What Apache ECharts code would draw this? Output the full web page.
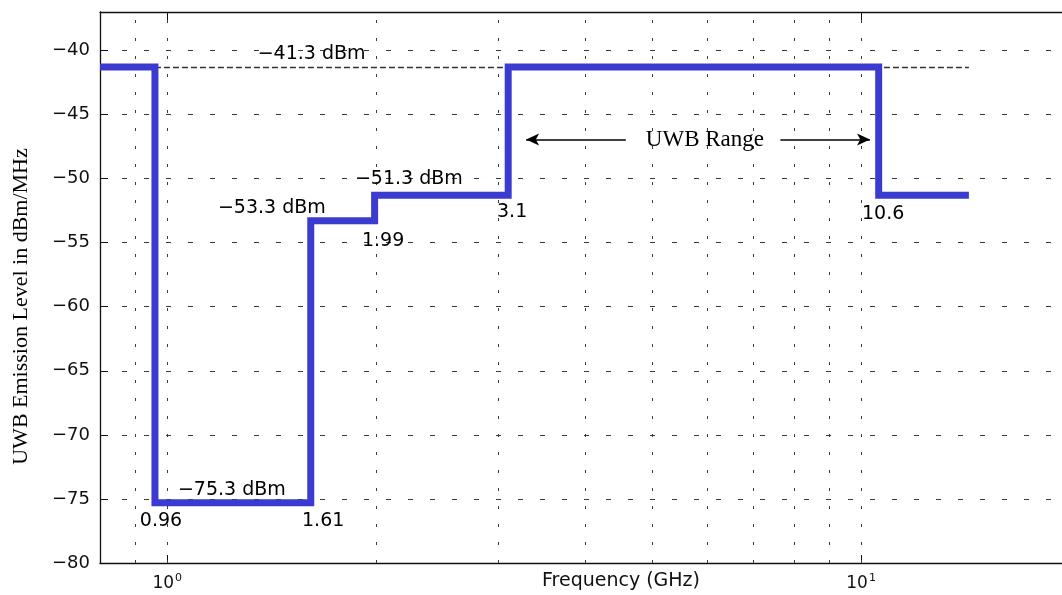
<!DOCTYPE html>
<html>
<head>
<meta charset="utf-8">
<script src="https://cdn.jsdelivr.net/npm/echarts@6/dist/echarts.min.js"></script>
<style>
html,body{margin:0;padding:0;background:#fff;}
#chart{width:1062px;height:595px;}
</style>
</head>
<body>
<div id="chart"></div>
<script>
// ---- data ----
const xMin = 0.8, xMax = 20;
const yMin = -80, yMax = -37, yStep = 5;
const freqEdges = [0.8, 0.96, 1.61, 1.99, 3.1, 10.6, 14.3];   // GHz
const levels = [-41.3, -75.3, -53.3, -51.3, -41.3, -51.3];      // dBm/MHz
const limitLevel = -41.3;
const limitFrom = 0.96, limitTo = 14.3;
const majorGridFreqs = [1, 10];
const minorGridFreqs = [0.9, 2, 3, 4, 5, 6, 7, 8, 9];
const annotationTexts = ['\u221241.3 dBm', '\u221253.3 dBm', '\u221251.3 dBm', '1.99', '3.1', '10.6', '\u221275.3 dBm', '0.96', '1.61'];
const annotationAt = [[1.35, -40.25], [1.183, -52.3], [1.864, -50.0], [1.908, -54.85], [2.987, -52.6], [10.03, -52.75], [1.036, -74.3], [0.913, -76.7], [1.564, -76.7]];
const rangeLabel = 'UWB Range';
const rangeLabelAt = [5.955, -46.95];
const rangeArrowLeft = [4.58, 3.29];
const rangeArrowRight = [7.65, 10.3];

// ---- build ----
const stepData = freqEdges.map((f, i) => [f, levels[Math.min(i, levels.length - 1)]]);
const gridDash = '#3a3a3a';
const vLines = majorGridFreqs.concat(minorGridFreqs).map(v => ({ xAxis: v }));

const annData = annotationTexts.map((t, i) => ({
  value: annotationAt[i],
  label: { formatter: t }
}));

const chart = echarts.init(document.getElementById('chart'), null, { renderer: 'canvas' });
chart.setOption({
  animation: false,
  backgroundColor: '#fff',
  grid: { left: 100, right: -8, top: 12, bottom: 32, show: false, containLabel: false, outerBoundsMode: 'none' },
  xAxis: [{
    type: 'log', min: xMin, max: xMax, logBase: 10,
    axisLine: { show: true, lineStyle: { color: '#111', width: 1.3 } },
    axisTick: { show: true, inside: true, length: 8, lineStyle: { color: '#111' } },
    splitLine: { show: false },
    axisLabel: {
      margin: 10, color: '#111',
      formatter: function (v) {
        const l = Math.log10(v);
        if (Math.abs(l - Math.round(l)) < 1e-6) return '{b|10}{s|' + Math.round(l) + '}';
        return '';
      },
      rich: {
        b: { fontFamily: 'DejaVu Sans', fontSize: 17, color: '#111' },
        s: { fontFamily: 'DejaVu Sans', fontSize: 11, color: '#111', verticalAlign: 'top', padding: [0, 0, 10, 1] }
      }
    },
    name: 'Frequency (GHz)', nameLocation: 'middle', nameGap: 9, nameMoveOverlap: false,
    nameTextStyle: { fontFamily: 'DejaVu Sans', fontSize: 19, color: '#111', padding: [0, 0, 0, 72] }
  }, {
    type: 'log', min: xMin, max: xMax, logBase: 10, position: 'top',
    axisLine: { show: true, lineStyle: { color: '#111', width: 1.3 } },
    axisTick: { show: true, inside: true, length: 8, lineStyle: { color: '#111' } },
    axisLabel: { show: false }, splitLine: { show: false }
  }],
  yAxis: [{
    type: 'value', min: yMin, max: yMax, interval: yStep,
    axisLine: { show: true, lineStyle: { color: '#111', width: 1.3 } },
    axisTick: { show: true, inside: true, length: 8, lineStyle: { color: '#111' } },
    axisLabel: {
      margin: 10, color: '#111', fontFamily: 'DejaVu Sans', fontSize: 18,
      formatter: v => (Math.abs(v % yStep) < 1e-9 ? '\u2212' + Math.abs(v) : '')
    },
    splitLine: { show: true, lineStyle: { color: gridDash, width: 1, type: [5, 17] } },
    name: 'UWB Emission Level in dBm/MHz', nameLocation: 'middle', nameGap: 68, nameRotate: 90, nameMoveOverlap: false,
    nameTextStyle: { fontFamily: 'Liberation Serif', fontSize: 22, color: '#000', padding: [0, 38, 0, 0] }
  }],
  series: [{
    type: 'line', data: [], silent: true, z: 1,
    markLine: {
      silent: true, symbol: 'none', animation: false,
      label: { show: false },
      lineStyle: { color: gridDash, width: 1, type: [3, 15], opacity: 1 },
      data: vLines.concat([
        [{ coord: [limitFrom, limitLevel], lineStyle: { color: '#333', width: 1.4, type: [6, 3] } }, { coord: [limitTo, limitLevel] }]
      ])
    }
  }, {
    type: 'line', data: stepData, step: 'end', z: 5,
    symbol: 'none', showSymbol: false,
    lineStyle: { color: '#3b3bd0', width: 7, join: 'miter', cap: 'butt' },
    clip: true
  }, {
    type: 'scatter', data: annData, symbolSize: 0, z: 6, silent: true,
    itemStyle: { opacity: 1 },
    label: {
      show: true, position: [0, 0], align: 'left', verticalAlign: 'middle',
      fontFamily: 'DejaVu Sans', fontSize: 19, color: '#000', opacity: 1
    }
  }, {
    type: 'scatter', data: [{ value: rangeLabelAt }], symbolSize: 0, z: 6, silent: true,
    label: {
      show: true, position: [0, 0], align: 'center', verticalAlign: 'middle',
      formatter: rangeLabel, fontFamily: 'Liberation Serif', fontSize: 23, color: '#000', opacity: 1
    },
    markLine: {
      silent: true, animation: false, symbolSize: [9, 13],
      label: { show: false },
      lineStyle: { color: '#000', width: 1.5, type: 'solid', opacity: 1 },
      data: [
        [{ coord: [rangeArrowLeft[0], rangeLabelAt[1]], symbol: 'none' }, { coord: [rangeArrowLeft[1], rangeLabelAt[1]], symbol: 'arrow' }],
        [{ coord: [rangeArrowRight[0], rangeLabelAt[1]], symbol: 'none' }, { coord: [rangeArrowRight[1], rangeLabelAt[1]], symbol: 'arrow' }]
      ]
    }
  }]
});
</script>
</body>
</html>
